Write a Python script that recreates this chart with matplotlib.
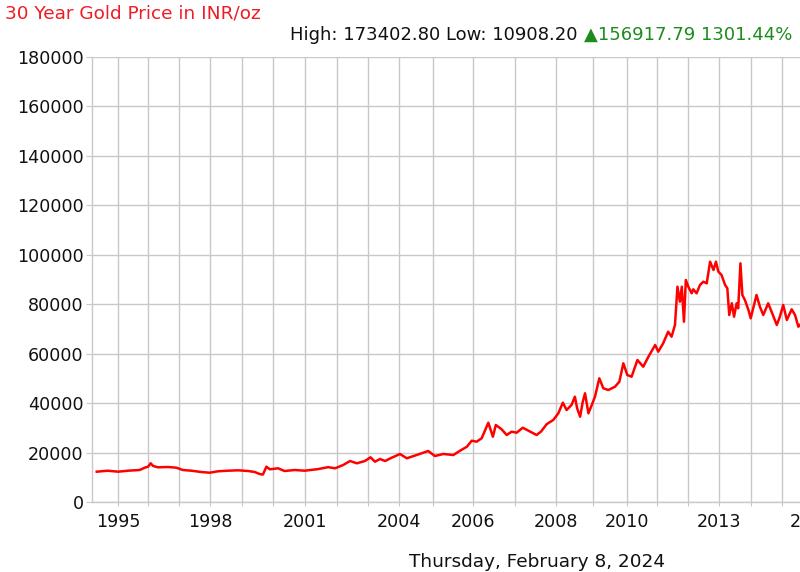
import numpy as np
import matplotlib
matplotlib.use("Agg")
import matplotlib.pyplot as plt
from matplotlib.ticker import FixedLocator, FixedFormatter

# ---- data (year, INR/oz) ----
years = [1994.10, 1994.55, 1994.99, 1995.32, 1995.71, 1995.88, 1995.99, 1996.08, 1996.16, 1996.32,
         1996.65, 1996.93, 1997.14, 1997.41, 1997.72, 1997.99, 1998.25, 1998.57, 1998.89, 1999.21,
         1999.42, 1999.58, 1999.68, 1999.79, 1999.90, 2000.16, 2000.36, 2000.68, 2000.99, 2001.41,
         2001.73, 2001.95, 2002.21, 2002.43, 2002.65, 2002.91, 2003.09, 2003.23, 2003.39, 2003.55,
         2003.76, 2004.02, 2004.22, 2004.51, 2004.85, 2005.04, 2005.25, 2005.50, 2005.67, 2005.84,
         2005.96, 2006.08, 2006.20, 2006.36, 2006.47, 2006.54, 2006.68, 2006.80, 2006.92, 2007.04,
         2007.19, 2007.33, 2007.53, 2007.64, 2007.78, 2007.94, 2008.07, 2008.19, 2008.29, 2008.42,
         2008.51, 2008.57, 2008.65, 2008.72, 2008.78, 2008.87, 2008.96, 2009.05, 2009.18, 2009.30,
         2009.45, 2009.65, 2009.78, 2009.90, 2010.02, 2010.16, 2010.35, 2010.54, 2010.71, 2010.93,
         2011.03, 2011.19, 2011.35, 2011.46, 2011.57, 2011.65, 2011.73, 2011.79, 2011.86, 2011.92,
         2012.00, 2012.11, 2012.16, 2012.27, 2012.38, 2012.49, 2012.60, 2012.71, 2012.82, 2012.90,
         2012.98, 2013.08, 2013.19, 2013.26, 2013.32, 2013.40, 2013.47, 2013.55, 2013.60, 2013.67,
         2013.73, 2013.81, 2013.92, 2013.99, 2014.07, 2014.18, 2014.29, 2014.40, 2014.56, 2014.67,
         2014.84, 2014.94, 2015.05, 2015.17, 2015.33, 2015.44, 2015.55, 2015.60]
prices = [12260, 12660, 12260, 12660, 12940, 13870, 14280, 15650, 14560, 14030,
          14160, 13870, 12940, 12660, 12135, 11850, 12420, 12660, 12820, 12540,
          12135, 11300, 11100, 14280, 13230, 13630, 12540, 12940, 12660, 13300,
          14100, 13630, 14970, 16585, 15650, 16585, 18080, 16300, 17390, 16585,
          17920, 19420, 17680, 19010, 20630, 18600, 19420, 19010, 20750, 22370,
          24800, 24390, 25770, 32080, 26410, 31150, 29400, 27100, 28440, 28030,
          30050, 28840, 27100, 28500, 31500, 33170, 35880, 40170, 37210, 39240,
          42600, 37900, 34500, 40570, 43970, 35880, 39240, 42600, 50040, 46000,
          45300, 46640, 48660, 56100, 51370, 50680, 57440, 54730, 58770, 63510,
          60800, 64200, 68890, 66860, 71600, 87090, 81020, 87090, 72930, 89800,
          87090, 84420, 86040, 84420, 87780, 89110, 88460, 97200, 93840, 97200,
          93160, 91820, 87780, 86440, 75640, 80380, 74950, 80380, 78350, 96550,
          83730, 81700, 77660, 74310, 78350, 83730, 79000, 75640, 80380, 76980,
          71600, 74950, 79690, 73620, 77950, 75640, 70910, 71600]

grid_years = list(range(1995, 2017))
label_years = [1995, 1998, 2001, 2004, 2006, 2008, 2010, 2013, 2016]
y_ticks = list(range(0, 180001, 20000))

title_text = "30 Year Gold Price in INR/oz"
stats_black = "High: 173402.80 Low: 10908.20 "
stats_green = "\u25b2156917.79 1301.44%"
date_text = "Thursday, February 8, 2024"

# ---- non-linear time axis of the original chart (layout) ----
_ax_years = [1990, 1995, 1996, 1997, 1998, 1999, 2000, 2001, 2002, 2003, 2004, 2005,
             2006, 2007, 2008, 2009, 2010, 2011, 2012, 2013, 2014, 2015, 2016, 2030]
_ax_pos = [-1.5, 118.3, 148.3, 178.5, 210, 241.5, 273, 305, 336.7, 367.7, 399.3, 433.3,
           473.3, 515, 555.7, 593.3, 626.7, 657.3, 688.3, 719, 751, 781.7, 812, 1236]

def fwd(x):
    return np.interp(x, _ax_years, _ax_pos)

def inv(p):
    return np.interp(p, _ax_pos, _ax_years)

W, H = 800, 572
RIGHT = 830  # plot area continues past the crop of the original image
fig = plt.figure(figsize=(W / 100, H / 100), dpi=100)
ax = fig.add_axes([92 / W, (H - 502) / H, (RIGHT - 92) / W, (502 - 57) / H])
ax.set_xscale("function", functions=(fwd, inv))

ax.plot(years, prices, color="#ff0000", lw=1.8, solid_joinstyle="round", zorder=3)

ax.set_xlim(inv(92), inv(RIGHT))
ax.set_ylim(0, 180000)

ax.xaxis.set_major_locator(FixedLocator(grid_years))
ax.xaxis.set_major_formatter(FixedFormatter([str(y) if y in label_years else "" for y in grid_years]))
ax.xaxis.set_minor_locator(FixedLocator([]))
ax.yaxis.set_major_locator(FixedLocator(y_ticks))
ax.yaxis.set_major_formatter(FixedFormatter([str(v) for v in y_ticks]))

gc = "#c8c8c8"
ax.grid(True, color=gc, lw=1.0)
ax.set_axisbelow(True)
for s in ("top", "right"):
    ax.spines[s].set_visible(False)
for s in ("left", "bottom"):
    ax.spines[s].set_color(gc)
    ax.spines[s].set_linewidth(1.0)

ax.tick_params(axis="y", length=4, color=gc, pad=2.0, labelsize=12.6, labelcolor="#111111")
ax.tick_params(axis="x", length=3, color=gc, pad=5, labelsize=12.6, labelcolor="#111111")

fig.text(5 / W, (H - 14) / H, title_text, color="#ee1c25", fontsize=13.3, ha="left", va="center")
t_g = fig.text(792 / W, (H - 35) / H, stats_green, color="#1c8c1c", fontsize=13, ha="right", va="center")
fig.canvas.draw()
bb = t_g.get_window_extent()
fig.text(bb.x0 / W, (H - 35) / H, stats_black, color="#111111", fontsize=13, ha="right", va="center")
fig.text(537 / W, (H - 562) / H, date_text, color="#111111", fontsize=13.3, ha="center", va="center")

fig.savefig("out.png", dpi=100)
